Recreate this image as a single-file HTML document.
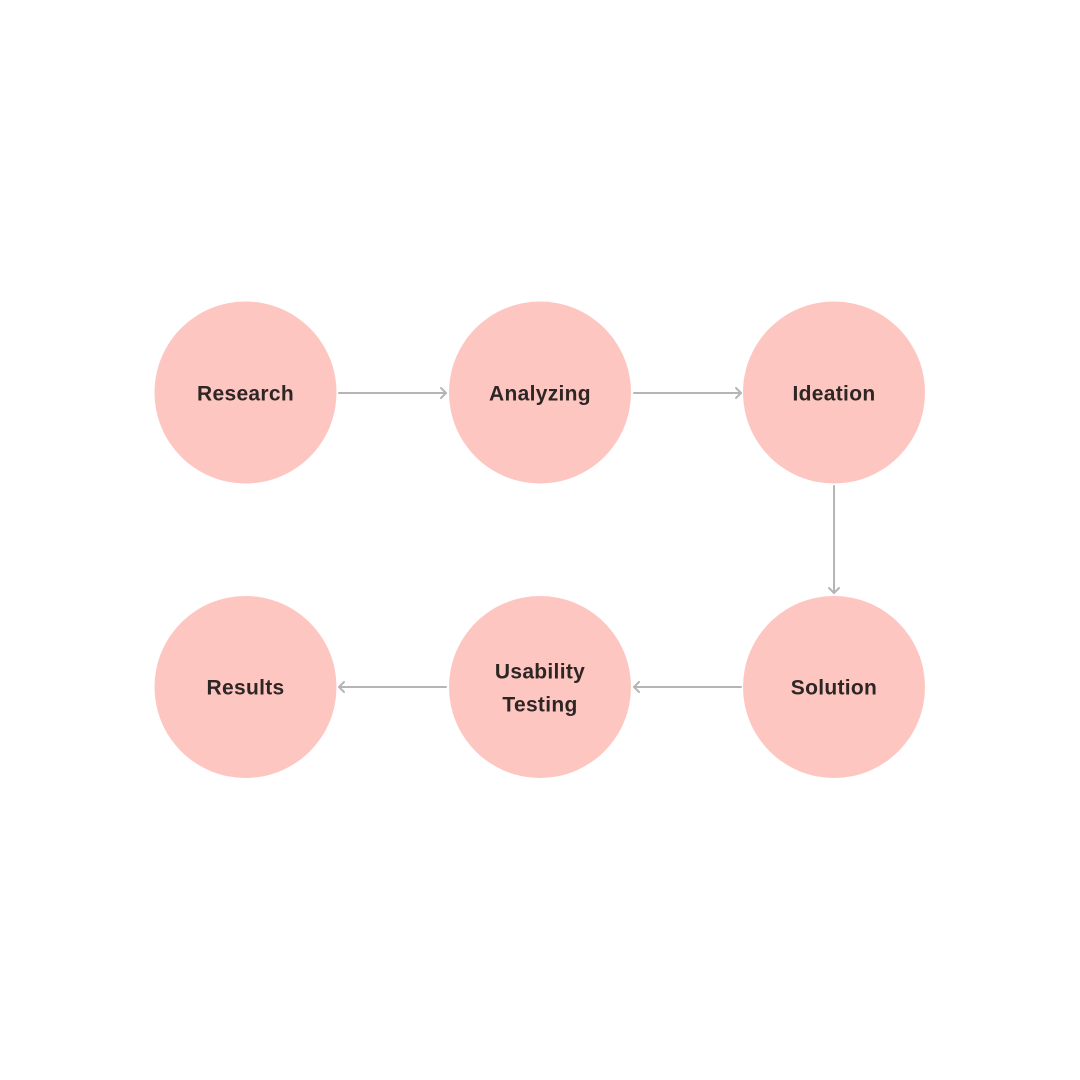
<!DOCTYPE html>
<html><head><style>
html,body{margin:0;padding:0;background:#fff;width:1080px;height:1080px;overflow:hidden}
</style></head><body>
<svg width="1080" height="1080" viewBox="0 0 1080 1080" xmlns="http://www.w3.org/2000/svg">
<rect width="1080" height="1080" fill="#fff"/>
<g fill="#fec6c1">
<circle cx="245.5" cy="392.5" r="91"/>
<circle cx="540" cy="392.5" r="91"/>
<circle cx="834" cy="392.5" r="91"/>
<circle cx="245.5" cy="687" r="91"/>
<circle cx="540" cy="687" r="91"/>
<circle cx="834" cy="687" r="91"/>
</g>
<g stroke="#b5b5b5" stroke-width="2" fill="none" stroke-linecap="round" stroke-linejoin="round">
<line x1="339" y1="393" x2="446" y2="393"/><polyline points="441,388 446,393 441,398"/>
<line x1="634" y1="393" x2="741" y2="393"/><polyline points="736,388 741,393 736,398"/>
<line x1="834" y1="486" x2="834" y2="593"/><polyline points="829,588 834,593 839,588"/>
<line x1="741" y1="687" x2="634" y2="687"/><polyline points="639,682 634,687 639,692"/>
<line x1="446" y1="687" x2="339" y2="687"/><polyline points="344,682 339,687 344,692"/>
</g>
<g font-family="Liberation Sans, sans-serif" font-weight="bold" font-size="21" fill="#2e2624" text-anchor="middle" letter-spacing="0.3">
<text x="245.5" y="400.5">Research</text>
<text x="540" y="400.5">Analyzing</text>
<text x="834" y="400.5">Ideation</text>
<text x="245.5" y="694.5">Results</text>
<text x="540" y="678.5">Usability</text>
<text x="540" y="711.5">Testing</text>
<text x="834" y="694.5">Solution</text>
</g>
</svg>
</body></html>
